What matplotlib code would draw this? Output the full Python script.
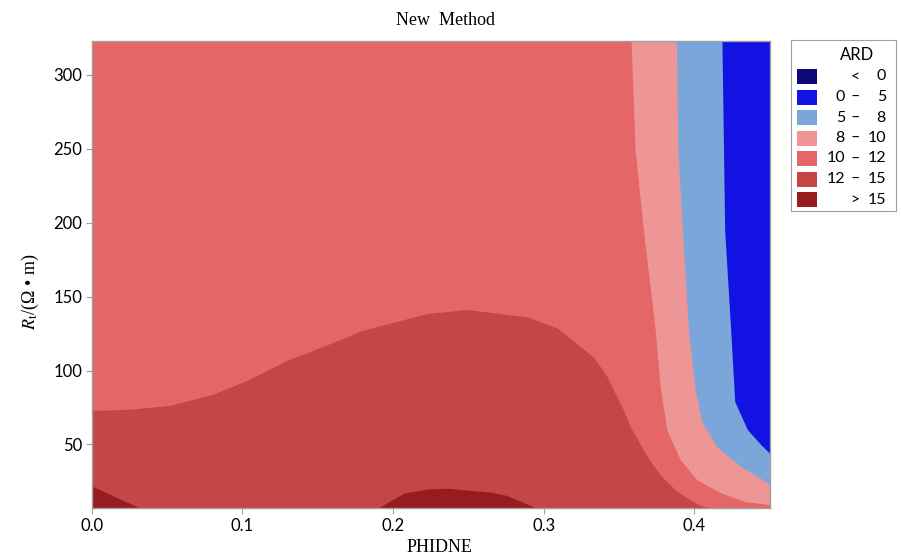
import numpy as np
import matplotlib
matplotlib.use("Agg")
import matplotlib.pyplot as plt
from matplotlib.patches import Rectangle

plt.rcParams['mathtext.fontset'] = 'stix'

# legend classes and colours
ard_labels = [("", "<", "0"), ("0", "\u2013", "5"), ("5", "\u2013", "8"), ("8", "\u2013", "10"),
              ("10", "\u2013", "12"), ("12", "\u2013", "15"), ("", ">", "15")]
ard_colors = ["#0b0a78", "#1212e2", "#7ba6d9", "#ee9595", "#e46667", "#c54646", "#961c20"]

# ARD = 12 contour (y as function of PHIDNE)
c12_x = [0.0, 0.0254, 0.052, 0.0806, 0.1032, 0.13, 0.165, 0.1783, 0.2226, 0.2492, 0.289, 0.309,
         0.3331, 0.3377, 0.3422, 0.3464, 0.353, 0.3576, 0.3688, 0.3776, 0.3887, 0.4032, 0.4108]
c12_y = [73, 73.8, 76.5, 84, 93.4, 107, 121, 126.8, 138.6, 141.3, 136.3, 128.8,
         109, 102.4, 95.7, 86.7, 73, 61.8, 41.6, 29, 18, 9, 7]

# ARD = 15 contours
c15a_x = [0.0, 0.032]
c15a_y = [21.9, 7]
c15b_x = [0.190, 0.1987, 0.2075, 0.222, 0.236, 0.2505, 0.264, 0.275, 0.286, 0.2947]
c15b_y = [7, 12.2, 17.2, 19.7, 20.4, 19, 17.9, 15.6, 11, 7]

# ARD = 10, 8, 5 contours (PHIDNE as function of Rt)
c10_y = [323, 249, 195, 127.5, 89, 59.6, 39.3, 25.8, 16.8, 11, 9]
c10_x = [0.3583, 0.361, 0.3665, 0.3743, 0.3776, 0.382, 0.391, 0.402, 0.418, 0.434, 0.45]
c8_y = [323, 249, 195, 127.5, 86.7, 65, 48, 35, 23]
c8_x = [0.3884, 0.3894, 0.3924, 0.3964, 0.4009, 0.4053, 0.4153, 0.4308, 0.45]
c5_y = [323, 195, 127.5, 79, 60, 50, 44]
c5_x = [0.4183, 0.4201, 0.4241, 0.4268, 0.4352, 0.444, 0.45]

xmin, xmax = 0.0, 0.45
ymin, ymax = 7, 323

fig = plt.figure(figsize=(9.01, 5.57), dpi=100)
ax = fig.add_axes([91.7 / 901, (557 - 508) / 557, 678 / 901, 467 / 557])
ax.set_facecolor(ard_colors[4])

ax.fill_between(c12_x, 0, c12_y, color=ard_colors[5], lw=0)
ax.fill_between(c15a_x, 0, c15a_y, color=ard_colors[6], lw=0)
ax.fill_between(c15b_x, 0, c15b_y, color=ard_colors[6], lw=0)
ax.fill_betweenx(c10_y, c10_x, 1, color=ard_colors[3], lw=0)
ax.fill_betweenx(c8_y, c8_x, 1, color=ard_colors[2], lw=0)
ax.fill_betweenx(c5_y, c5_x, 1, color=ard_colors[1], lw=0)

ax.set_xlim(xmin, xmax)
ax.set_ylim(ymin, ymax)
ax.set_xticks([0.0, 0.1, 0.2, 0.3, 0.4])
ax.set_xticklabels(["0.0", "0.1", "0.2", "0.3", "0.4"])
ax.set_yticks([50, 100, 150, 200, 250, 300])
for s in ax.spines.values():
    s.set_color("#a0a0a0")
    s.set_linewidth(1.0)
ax.tick_params(length=4, color="#a0a0a0", labelsize=12, labelcolor="black", pad=3)
for lab in ax.get_xticklabels() + ax.get_yticklabels():
    lab.set_family("Lato")

fig.text(445 / 901, 1 - 20.5 / 557, "New  Method", ha="center", va="center",
         family="Liberation Serif", fontsize=13)
fig.text(439.5 / 901, 1 - 548 / 557, "PHIDNE", ha="center", va="center",
         family="Liberation Serif", fontsize=13)
fig.text(30 / 901, 1 - 292 / 557, "$R_{\\rm t}$/(\u03a9 \u2022 m)", ha="center", va="center",
         rotation=90, family="Liberation Serif", fontsize=13)

# legend box
lg = fig.add_axes([791 / 901, (557 - 211) / 557, 105 / 901, 171 / 557])
lg.set_xlim(791, 896)
lg.set_ylim(211, 40)
lg.set_xticks([])
lg.set_yticks([])
for s in lg.spines.values():
    s.set_color("#a0a0a0")
lg.text(857, 55, "ARD", ha="center", va="center", family="Lato", fontsize=12)
for i, (lo, sep, hi) in enumerate(ard_labels):
    yc = 76.5 + i * 20.5
    lg.add_patch(Rectangle((797, yc - 7.5), 20, 15, color=ard_colors[i], lw=0))
    if lo:
        lg.text(845, yc, lo, ha="right", va="center", family="Lato", fontsize=11.5)
    lg.text(855, yc, sep, ha="center", va="center", family="Lato", fontsize=11.5)
    lg.text(886, yc, hi, ha="right", va="center", family="Lato", fontsize=11.5)

fig.savefig("out.png", dpi=100)
